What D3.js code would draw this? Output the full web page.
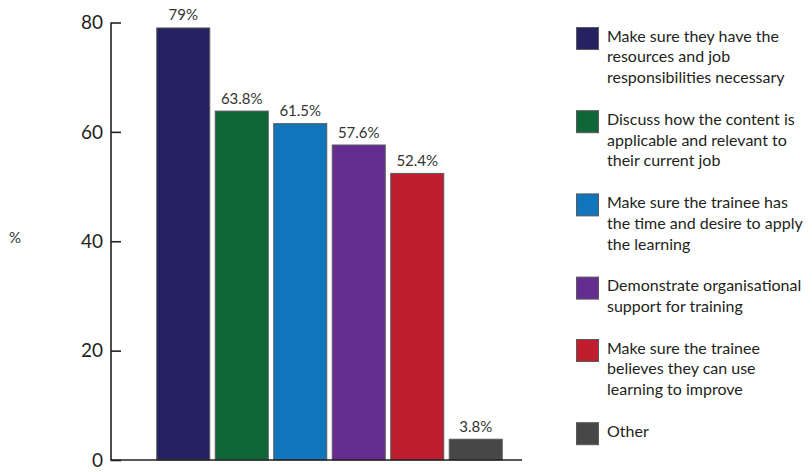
<!DOCTYPE html>
<html>
<head>
<meta charset="utf-8">
<script src="https://cdn.jsdelivr.net/npm/d3@7"></script>
<style>
  body { margin: 0; background: #fff; }
  text { font-family: Lato, "Open Sans", sans-serif; }
</style>
</head>
<body>
<svg id="chart" width="812" height="472"></svg>
<script>
// chart data
const categories = [
  'Make sure they have the resources and job responsibilities necessary',
  'Discuss how the content is applicable and relevant to their current job',
  'Make sure the trainee has the time and desire to apply the learning',
  'Demonstrate organisational support for training',
  'Make sure the trainee believes they can use learning to improve',
  'Other'
];
const legendLines = [
  ['Make sure they have the', 'resources and job', 'responsibilities necessary'],
  ['Discuss how the content is', 'applicable and relevant to', 'their current job'],
  ['Make sure the trainee has', 'the time and desire to apply', 'the learning'],
  ['Demonstrate organisational', 'support for training'],
  ['Make sure the trainee', 'believes they can use', 'learning to improve'],
  ['Other']
];
const values = [79, 63.8, 61.5, 57.6, 52.4, 3.8];
const yTicks = [0, 20, 40, 60, 80];
const colors = ['#262262', '#0f6639', '#1175bc', '#662d91', '#be1e2d', '#474747'];

let svg = d3.select('#chart');

let x = d3.scaleBand()
  .domain(categories)
  .range([154, 505])
  .paddingInner(0.094)
  .paddingOuter(0.047);

let y = d3.scaleLinear().domain([0, 80]).range([460, 22.5]);

// bars
svg.append('g')
  .selectAll('rect')
  .data(values)
  .enter().append('rect')
    .attr('x', (d, i) => x(categories[i]))
    .attr('y', (d) => y(d))
    .attr('width', x.bandwidth())
    .attr('height', (d) => y(0) - y(d))
    .attr('fill', (d, i) => colors[i])
    .attr('stroke', '#5a5a5a')
    .attr('stroke-width', 1);

// value labels
svg.append('g')
  .selectAll('text')
  .data(values)
  .enter().append('text')
    .attr('x', (d, i) => x(categories[i]) + x.bandwidth() / 2)
    .attr('y', (d) => y(d) - 7.5)
    .attr('text-anchor', 'middle')
    .attr('font-size', 15)
    .attr('fill', '#333')
    .text((d) => d + '%');

// y axis, ticks point inward
let yAxis = d3.axisRight(y).tickValues(yTicks).tickSize(10).tickFormat('');
let gy = svg.append('g').attr('transform', 'translate(111,0)').call(yAxis);
gy.select('.domain').attr('d', 'M0,' + y(80) + 'V' + y(0)).attr('stroke', '#231f20').attr('stroke-width', 1.6);
gy.selectAll('.tick line').attr('stroke', '#231f20').attr('stroke-width', 1.6);

svg.append('g')
  .selectAll('text')
  .data(yTicks)
  .enter().append('text')
    .attr('x', 103)
    .attr('y', (d) => y(d))
    .attr('dy', '0.36em')
    .attr('text-anchor', 'end')
    .attr('font-size', 19)
    .attr('fill', '#231f20')
    .text((d) => d);

// baseline
svg.append('line')
  .attr('x1', 110.2).attr('x2', 522)
  .attr('y1', y(0)).attr('y2', y(0))
  .attr('stroke', '#231f20')
  .attr('stroke-width', 1.6);

svg.append('text')
  .attr('x', 15).attr('y', 243)
  .attr('text-anchor', 'middle')
  .attr('font-size', 15)
  .attr('fill', '#333')
  .text('%');

// legend
let lineH = 20.8;
let lineIdx = 0;
let legend = svg.append('g');
legendLines.forEach((lines, i) => {
  let base = 41.5 + lineIdx * lineH;
  legend.append('rect')
    .attr('x', 576.5).attr('y', base - 14)
    .attr('width', 22).attr('height', 22)
    .attr('fill', colors[i])
    .attr('stroke', '#5a5a5a')
    .attr('stroke-width', 1);
  lines.forEach((t, j) => {
    legend.append('text')
      .attr('x', 607)
      .attr('y', base + j * lineH)
      .attr('font-size', 16)
      .attr('fill', '#231f20')
      .text(t);
  });
  lineIdx += lines.length + 1;
});
</script>
</body>
</html>
